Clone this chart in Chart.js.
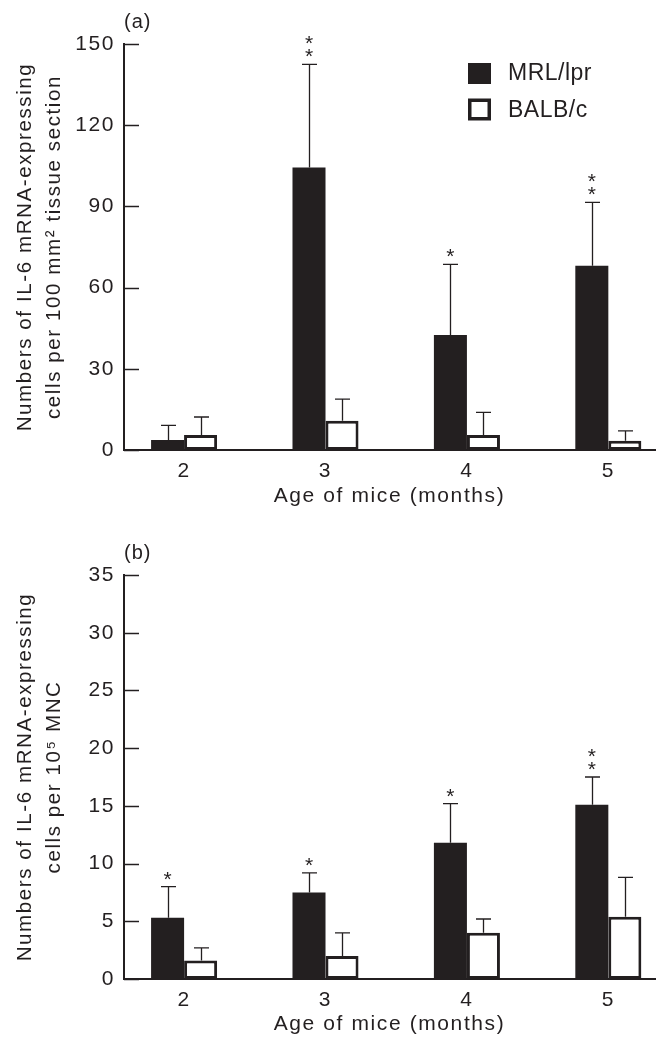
<!DOCTYPE html>
<html>
<head>
<meta charset="utf-8">
<script src="https://cdn.jsdelivr.net/npm/chart.js@4.4.0/dist/chart.umd.min.js"></script>
<style>
  html, body { margin: 0; padding: 0; background: #fff; }
  .panel { position: absolute; left: 0; width: 668px; }
  #wrapA { top: 0; height: 520px; }
  #wrapB { top: 520px; height: 525px; }
</style>
</head>
<body>
<div class="panel" id="wrapA"><canvas id="chartA"></canvas></div>
<div class="panel" id="wrapB"><canvas id="chartB"></canvas></div>
<script>
// ages on the x axis
const ages = [2, 3, 4, 5];
const strainNames = ['MRL/lpr', 'BALB/c'];

// panel (a): cells per 100 mm2 tissue section (mean, SD)
const mrlA = [3.7, 104.4, 42.5, 68.1];
const mrlSdA = [5.4, 38.1, 26.1, 23.4];
const balbA = [5.5, 10.8, 5.5, 3.4];
const balbSdA = [6.7, 8.0, 8.4, 3.7];
const starsA = [0, 2, 1, 2];
const ticksA = [0, 30, 60, 90, 120, 150];

// panel (b): cells per 10^5 MNC (mean, SD)
const mrlB = [5.3, 7.5, 11.8, 15.1];
const mrlSdB = [2.7, 1.7, 3.4, 2.4];
const balbB = [1.6, 2.0, 4.0, 5.4];
const balbSdB = [1.1, 2.0, 1.2, 3.4];
const starsB = [1, 1, 1, 2];
const ticksB = [0, 5, 10, 15, 20, 25, 30, 35];

const ink = '#231f20';
const fontFamily = '"Liberation Sans", Arial, Helvetica, sans-serif';
Chart.defaults.font.family = fontFamily;
Chart.defaults.color = ink;

// wide tracking like the printed figure
const trackingPlugin = {
    id: 'tracking',
    beforeDraw(chart) {
        chart.ctx.letterSpacing = '1.6px';
    }
};

// error bars, asterisks, inward y ticks, panel letter and legend
const annotatePlugin = {
    id: 'annotate',
    afterDraw(chart, args, opts) {
        const ctx = chart.ctx;
        const yScale = chart.scales.y;
        const area = chart.chartArea;
        ctx.save();
        ctx.letterSpacing = '0px';
        ctx.strokeStyle = ink;
        ctx.fillStyle = ink;

        // y tick marks pointing into the plot
        ctx.lineWidth = 1.5;
        yScale.ticks.forEach(t => {
            const y = Math.round(yScale.getPixelForValue(t.value)) + 0.5;
            ctx.beginPath();
            ctx.moveTo(area.left, y);
            ctx.lineTo(area.left + 15, y);
            ctx.stroke();
        });

        // upward SD bars
        ctx.lineWidth = 1.3;
        chart.data.datasets.forEach((ds, d) => {
            const meta = chart.getDatasetMeta(d);
            meta.data.forEach((bar, i) => {
                const top = yScale.getPixelForValue(ds.data[i].y + opts.sd[d][i]);
                const x = Math.round(bar.x) + 0.5;
                ctx.beginPath();
                ctx.moveTo(x, bar.y);
                ctx.lineTo(x, top);
                ctx.moveTo(x - 7.5, top);
                ctx.lineTo(x + 7.5, top);
                ctx.stroke();
            });
        });

        // significance asterisks above MRL/lpr bars
        ctx.font = '21px ' + fontFamily;
        ctx.textAlign = 'center';
        ctx.textBaseline = 'alphabetic';
        const m = ctx.measureText('*');
        const mid = (m.actualBoundingBoxAscent - m.actualBoundingBoxDescent) / 2;
        const mrlMeta = chart.getDatasetMeta(0);
        mrlMeta.data.forEach((bar, i) => {
            const top = yScale.getPixelForValue(chart.data.datasets[0].data[i].y + opts.sd[0][i]);
            for (let k = 0; k < opts.stars[i]; k++) {
                ctx.fillText('*', bar.x, top - 11 - k * 13.5 + mid);
            }
        });

        // panel letter
        ctx.letterSpacing = '1px';
        ctx.textAlign = 'left';
        ctx.textBaseline = 'middle';
        ctx.font = '20px ' + fontFamily;
        ctx.fillText(opts.letter, area.left, opts.letterY);

        // legend
        if (opts.legend) {
            ctx.letterSpacing = '0.5px';
            ctx.font = '23px ' + fontFamily;
            ctx.fillRect(468, 63, 23, 21);
            ctx.lineWidth = 3.5;
            ctx.strokeRect(469.75, 100.25, 19.5, 18.5);
            ctx.fillText(strainNames[0], 508, 74);
            ctx.fillText(strainNames[1], 508, 111);
        }
        ctx.restore();
    }
};

function makePanel(canvasId, p) {
    const ctx = document.getElementById(canvasId).getContext('2d');
    return new Chart(ctx, {
        type: 'bar',
        data: {
            datasets: [{
                label: strainNames[0],
                data: ages.map((a, i) => ({ x: a, y: p.mrl[i] })),
                backgroundColor: ink,
                borderWidth: 0,
                categoryPercentage: 0.467,
                barPercentage: 1
            }, {
                label: strainNames[1],
                data: ages.map((a, i) => ({ x: a, y: p.balb[i] })),
                backgroundColor: '#ffffff',
                borderColor: ink,
                borderWidth: 3,
                borderSkipped: false,
                categoryPercentage: 0.467,
                barPercentage: 1
            }]
        },
        options: {
            responsive: true,
            maintainAspectRatio: false,
            devicePixelRatio: 1,
            animation: false,
            layout: { padding: { top: p.padTop, right: 13, bottom: 0, left: 0 } },
            plugins: {
                legend: { display: false },
                tooltip: { enabled: false },
                annotate: { sd: p.sd, stars: p.stars, letter: p.letter, letterY: p.letterY, legend: p.legend }
            },
            scales: {
                x: {
                    type: 'linear',
                    offset: false,
                    min: 1.575,
                    max: 5.33,
                    afterBuildTicks: s => { s.ticks = ages.map(v => ({ value: v })); },
                    afterFit: s => { s.height = p.xHeight; },
                    grid: { display: false, drawTicks: false },
                    border: { display: true, color: ink, width: 2 },
                    ticks: { font: { size: 21 }, padding: 9, color: ink },
                    title: {
                        display: true,
                        text: 'Age of mice (months)',
                        font: { size: 21 },
                        color: ink,
                        padding: { top: 0, bottom: p.xTitlePad }
                    }
                },
                y: {
                    min: 0,
                    max: p.ticks[p.ticks.length - 1],
                    afterBuildTicks: s => { s.ticks = p.ticks.map(v => ({ value: v })); },
                    afterFit: s => { s.width = 124; },
                    grid: { display: false, drawTicks: false },
                    border: { display: true, color: ink, width: 2 },
                    ticks: { font: { size: 21 }, padding: 9, color: ink },
                    title: {
                        display: true,
                        text: p.yTitle,
                        font: { size: 20.5, lineHeight: 1.42 },
                        color: ink,
                        padding: { top: 11, bottom: 0 }
                    }
                }
            }
        },
        plugins: [trackingPlugin, annotatePlugin]
    });
}

makePanel('chartA', {
    mrl: mrlA, balb: balbA, sd: [mrlSdA, balbSdA], stars: starsA, ticks: ticksA,
    padTop: 44, xHeight: 70, xTitlePad: 11, letter: '(a)', letterY: 22, legend: true,
    yTitle: ['Numbers of IL-6 mRNA-expressing', 'cells per 100 mm\u00B2 tissue section']
});

makePanel('chartB', {
    mrl: mrlB, balb: balbB, sd: [mrlSdB, balbSdB], stars: starsB, ticks: ticksB,
    padTop: 55, xHeight: 66, xTitlePad: 8, letter: '(b)', letterY: 33, legend: false,
    yTitle: ['Numbers of IL-6 mRNA-expressing', 'cells per 10\u2075 MNC']
});
</script>
</body>
</html>
